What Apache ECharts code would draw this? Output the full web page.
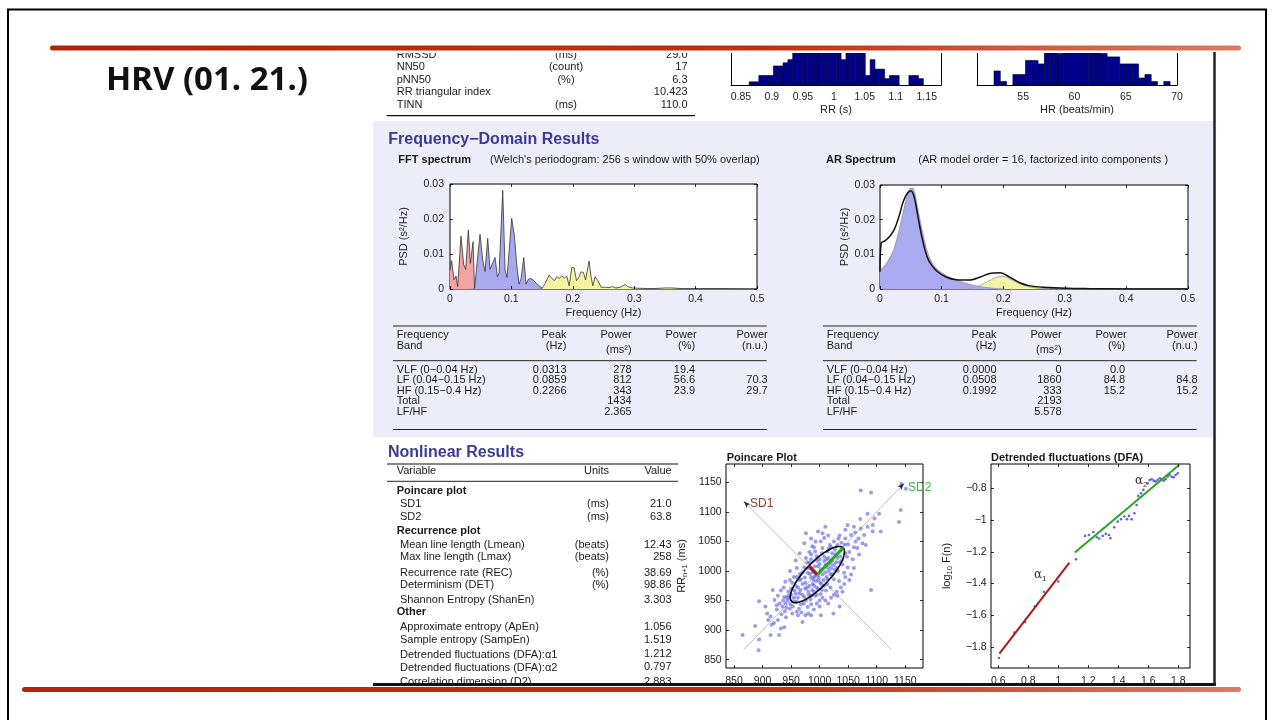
<!DOCTYPE html>
<html><head><meta charset="utf-8">
<script src="https://cdn.jsdelivr.net/npm/echarts@6/dist/echarts.min.js"></script>
<style>html,body{margin:0;padding:0;background:#fff}#c{width:1274px;height:720px}</style>
</head><body><div id="c"></div>
<script>
// ================= DATA =================
const slideTitle = 'HRV (01. 21.)';
const timeRows = [
  ['RMSSD', '(ms)', '29.0'],
  ['NN50', '(count)', '17'],
  ['pNN50', '(%)', '6.3'],
  ['RR triangular index', '', '10.423'],
  ['TINN', '(ms)', '110.0']
];
const rrBinStart = 0.8633, rrBinWidth = 0.0078125;
const rrCounts = [1,1,3,3,3,6,6,7,8,12,14,15,12,14,15,16,14,13,12,8,12,14,13,11,3,8,5,5,2,3,3,0,0,3,3,2];
const rrTicks = [0.85,0.9,0.95,1,1.05,1.1,1.15];
const hrBinStart = 52.16, hrBinWidth = 0.613;
const hrCounts = [4,1,0,3,3,7,7,6,11,12,9,13,14,12,15,13,11,9,8,8,6,6,6,2,3,1,0,1];
const hrTicks = [55,60,65,70];

const fftFreq = [0,0.0027,0.0065,0.0098,0.0125,0.0179,0.0223,0.0255,0.0299,0.0332,0.0375,0.04,
  0.0418,0.0489,0.0533,0.0571,0.0614,0.0652,0.069,0.0734,0.0772,0.0799,0.0859,0.0897,0.0929,0.1005,0.1049,0.1087,0.1125,0.1158,0.1201,0.1239,0.1277,0.1321,0.1364,0.1418,0.15,
  0.1549,0.1614,0.1658,0.1701,0.1739,0.1777,0.1821,0.1864,0.1902,0.194,0.1984,0.2022,0.206,0.2103,0.2136,0.2174,0.2207,0.2266,0.2293,0.2326,0.2364,0.2408,0.2462,0.2527,0.2592,0.2647,0.2701,0.2772,0.2853,0.2908,0.2973,0.31,0.33,0.35,0.36,0.38,0.4,0.42,0.45,0.48,0.5];
const fftPsd = [0.0054,0.0081,0.0026,0.0037,0.0007,0.0151,0.0069,0.0056,0.0169,0.0073,0.0135,0.0002,
  0.0007,0.0156,0.0083,0.005,0.0145,0.0056,0.0073,0.009,0.0035,0.0045,0.0282,0.0054,0.0033,0.0202,0.015,0.0069,0.0014,0.003,0.009,0.0014,0.0028,0.003,0.0024,0.0014,0.0002,
  0.0016,0.004,0.003,0.0024,0.0035,0.003,0.0037,0.0031,0.0037,0.0009,0.0062,0.006,0.0024,0.0035,0.0049,0.0047,0.0026,0.008,0.004,0.0009,0.0035,0.0024,0.0005,0.0005,0.0004,0.0007,0.0003,0.0005,0.0013,0.0006,0.0003,0.0002,0.0001,0.0003,0.0003,0.0001,0.0001,0.0001,0.0001,0,0];
const bandLimits = [0, 0.04, 0.15, 0.4];

const arFreq = [0,0.002,0.008,0.016,0.024,0.032,0.036,0.041,0.044,0.048,0.0508,0.054,0.057,0.061,0.065,0.069,0.073,0.077,0.081,0.092,0.108,0.124,0.146,0.162,0.178,0.195,0.211,0.227,0.243,0.265,0.303,0.341,0.395,0.5];
const arPsd  = [0.005,0.0133,0.0139,0.0152,0.0175,0.0216,0.0243,0.0266,0.0275,0.0282,0.0283,0.0274,0.0254,0.0215,0.0176,0.0142,0.0113,0.0091,0.0076,0.0052,0.0034,0.0027,0.0026,0.0034,0.0045,0.0047,0.0034,0.0018,0.0009,0.0005,0.0002,0.0001,0,0];
const arLfFreq = [0,0.011,0.022,0.032,0.041,0.045,0.049,0.053,0.056,0.059,0.063,0.068,0.076,0.086,0.103,0.124,0.146,0.168,0.189,0.2];
const arLfPsd  = [0.0052,0.0075,0.0111,0.0175,0.0248,0.0274,0.0289,0.029,0.0278,0.0253,0.0215,0.0172,0.0111,0.007,0.0043,0.0025,0.0013,0.0005,0.0001,0];
const arHfFreq = [0.141,0.157,0.173,0.189,0.2,0.211,0.227,0.243,0.265,0.276];
const arHfPsd  = [0,0.0006,0.002,0.0034,0.0036,0.0029,0.0015,0.0006,0.0001,0];
const freqTicks = [0,0.1,0.2,0.3,0.4,0.5];
const psdTicks = [0,0.01,0.02,0.03];

const tableHeader = [['Frequency','Band'],['Peak','(Hz)'],['Power','(ms²)'],['Power','(%)'],['Power','(n.u.)']];
const fftTable = [
  ['VLF (0−0.04 Hz)','0.0313','278','19.4',''],
  ['LF (0.04−0.15 Hz)','0.0859','812','56.6','70.3'],
  ['HF (0.15−0.4 Hz)','0.2266','343','23.9','29.7'],
  ['Total','','1434','',''],
  ['LF/HF','','2.365','','']
];
const arTable = [
  ['VLF (0−0.04 Hz)','0.0000','0','0.0',''],
  ['LF (0.04−0.15 Hz)','0.0508','1860','84.8','84.8'],
  ['HF (0.15−0.4 Hz)','0.1992','333','15.2','15.2'],
  ['Total','','2193','',''],
  ['LF/HF','','5.578','','']
];
const nonlinearRows = [
  ['Poincare plot','','',1],
  ['SD1','(ms)','21.0'],
  ['SD2','(ms)','63.8'],
  ['Recurrence plot','','',1],
  ['Mean line length (Lmean)','(beats)','12.43'],
  ['Max line length (Lmax)','(beats)','258'],
  ['Recurrence rate (REC)','(%)','38.69'],
  ['Determinism (DET)','(%)','98.86'],
  ['Shannon Entropy (ShanEn)','','3.303'],
  ['Other','','',1],
  ['Approximate entropy (ApEn)','','1.056'],
  ['Sample entropy (SampEn)','','1.519'],
  ['Detrended fluctuations (DFA):α1','','1.212'],
  ['Detrended fluctuations (DFA):α2','','0.797'],
  ['Correlation dimension (D2)','','2.883']
];

const poincareRRn = [865,894,887,894,893,905,908,910,914,916,920,914,929,932,938,927,933,941,939,918,921,927,932,937,938,944,948,949,952,960,964,970,967,973,976,979,985,956,962,970,967,974,979,973,982,976,985,992,973,976,997,1002,1008,1005,1014,1022,1031,1040,1043,1049,1055,1055,1049,1063,1066,1069,1075,1078,1081,1072,1084,1093,1084,1071,1093,1096,1104,1107,1090,1072,1090,1139,1142,1143,1151,1024,1031,1019,1014,1011,1002,997,994,988,985,1005,1014,1019,1025,1034,1037,1043,1018,1025,1031,1040,996,991,1002,1008,987,993,
  955,960,965,958,950,945,940,953,962,968,975,980,990,995,1000,1005,995,990,985,980,975,982,990,998,1003,1008,1012,1020,1025,1030,1035,1028,1022,1015,1010,1000,995,985,980,988,1045,1050,1060,1045,1035,1010,985,960,965,955,948,942,935,925,1015,1025,1040,
  945,950,955,958,962,966,970,972,975,978,981,984,987,990,992,995,998,1001,1004,1007,1010,1013,1016,1019,1022,1026,1029,1032,1036,1039,983,986,989,993,997,1000,1004,1008,1012,1016,1020,1027,1033,1038,1044,1048,1052,1058,1062,1015,1005,990,982,978,970,965,960,952,947,942,936,930,925,940,948,958,965,1000,1010,1020,1030,1045,1052,1060,1035,1002,985,1068,1060,1045];
const poincareRRn1 = [892,949,907,884,866,940,928,917,923,909,912,892,892,903,905,917,927,922,932,968,951,958,967,972,956,950,936,944,928,931,936,914,944,956,950,939,944,967,972,978,986,989,997,1006,1014,1022,1028,1033,1047,1064,1067,1050,1056,1039,1033,1017,1022,1011,997,1006,994,1061,1078,1050,1039,1028,1047,1061,1044,1072,1075,1078,1097,1088,1067,1089,1097,1067,968,1136,1133,1083,1103,1147,1139,928,958,972,986,967,961,969,983,978,989,994,1006,994,986,983,972,978,1044,1050,1044,1039,1017,1008,1003,1017,1042,1050,
  955,948,962,975,960,965,945,940,925,930,925,928,935,945,950,955,960,965,958,965,970,975,990,985,978,975,990,1005,1010,1005,1015,1028,1030,1022,1010,1020,1025,1020,1005,998,1030,1045,1040,1055,1060,1075,1055,1005,995,990,985,955,940,935,945,960,965,
  958,970,948,962,955,968,960,945,980,972,960,952,968,975,958,972,990,980,968,985,998,978,1000,1012,995,1002,1015,1000,1025,1018,995,1003,985,992,1008,1012,1030,1024,1020,1038,1040,1036,1055,1048,1045,1024,1032,1020,1065,1060,1064,1040,1032,1015,998,985,990,980,955,938,950,945,942,982,1000,1018,1030,940,950,955,965,990,985,1005,940,925,925,1055,1075,1070];
const sd1 = 21.0, sd2 = 63.8;
const poincareCenter = [996, 994];
const identityLine = [[867,867],[1148,1148]];
const sd1Line = [[867,1118],[1125,868]];
const poincareTicks = [850,900,950,1000,1050,1100,1150];

const dfaLogN = [0.604,0.707,0.778,0.844,0.904,1.0,1.118,1.178,1.204,1.233,1.256,1.273,1.296,1.316,1.338,1.347,1.373,1.396,1.418,1.44,1.458,1.471,1.489,1.507,1.522,1.533,1.551,1.567,1.596,1.609,1.622,1.636,1.649,1.662,1.676,1.689,1.702,1.716,1.729,1.742,1.756,1.769,1.782,1.796];
const dfaLogF = [-1.869,-1.708,-1.643,-1.544,-1.452,-1.387,-1.247,-1.1,-1.094,-1.075,-1.108,-1.117,-1.1,-1.087,-1.094,-1.115,-1.045,-1.01,-0.995,-0.978,-0.995,-0.974,-0.995,-0.957,-0.905,-0.848,-0.831,-0.81,-0.769,-0.748,-0.743,-0.752,-0.758,-0.748,-0.737,-0.743,-0.752,-0.743,-0.727,-0.716,-0.727,-0.731,-0.716,-0.706];
const dfaFit1 = [[0.607,-1.842],[1.074,-1.268]];
const dfaFit2 = [[1.11,-1.205],[1.805,-0.653]];
const dfaXTicks = [0.6,0.8,1,1.2,1.4,1.6,1.8];
const dfaYTicks = [-1.8,-1.6,-1.4,-1.2,-1,-0.8];

// ================= LAYOUT / DRAWING =================
const FONT = '"Liberation Sans", Arial, Helvetica, sans-serif';
const TXT = '#1a1a1a';
const BLUE_TITLE = '#3a3a95';
const G = [];
function text(x, y, s, o) {
  o = o || {};
  G.push({type:'text', x:x, y:y, z:(o.z != null ? o.z : 10), silent:true,
    style:{text:s, font:(o.bold ? 'bold ' : '') + (o.size || 11) + 'px ' + (o.family || FONT),
      fill:o.color || TXT, textAlign:o.align || 'left', textVerticalAlign:o.va || 'middle', rich:o.rich}});
}
function seg(x1, y1, x2, y2, w, c, z) {
  G.push({type:'line', z:(z != null ? z : 10), silent:true, shape:{x1:x1, y1:y1, x2:x2, y2:y2}, style:{stroke:c || '#000', lineWidth:w || 1}});
}
function box(x, y, w, h, fill, z, r) {
  G.push({type:'rect', z:(z != null ? z : 0), silent:true, shape:{x:x, y:y, width:w, height:h, r:r || 0}, style:{fill:fill}});
}

box(373, 121, 841, 316, '#ededf9', -10);

timeRows.forEach(function (r, i) {
  const y = 54.5 + 12.5 * i;
  text(396.7, y, r[0]); text(566, y, r[1], {align:'center'}); text(687.5, y, r[2], {align:'right'});
});
seg(386.7, 115.7, 695, 115.7, 1.2, '#111');

text(388.3, 140, 'Frequency−Domain Results', {bold:true, size:16, color:BLUE_TITLE});
text(398.3, 159.5, 'FFT spectrum', {bold:true, size:11});
text(490, 159.5, "(Welch's periodogram: 256 s window with 50% overlap)", {size:11});
text(826, 159.5, 'AR Spectrum', {bold:true, size:11});
text(918.3, 159.5, '(AR model order = 16, factorized into components )', {size:11});

function bandTable(L, rows) {
  const colR = [0, L + 169.8, L + 235, L + 298.5, L + 371];
  seg(L - 3.7, 326, L + 370, 326, 1, '#222');
  seg(L - 3.7, 360.7, L + 370, 360.7, 1, '#222');
  seg(L - 3.7, 429.5, L + 370, 429.5, 1, '#222');
  tableHeader.forEach(function (h, c) {
    if (c === 0) { text(L, 335, h[0]); text(L, 346, h[1]); }
    else {
      text(colR[c] + (c === 3 ? 1.5 : 0), 335, h[0], {align:'right'});
      text(colR[c], c === 2 ? 349.5 : 346, h[1], {align:'right'});
    }
  });
  rows.forEach(function (r, i) {
    const y = 370 + 10.4 * i;
    text(L, y, r[0]);
    for (let c = 1; c < 5; c++) if (r[c]) text(colR[c], y, r[c], {align:'right'});
  });
}
bandTable(396.7, fftTable);
bandTable(826.7, arTable);

text(388, 453, 'Nonlinear Results', {bold:true, size:16, color:BLUE_TITLE});
seg(387, 464, 678, 464, 1.2, '#111');
text(396.7, 471.3, 'Variable'); text(609, 471.3, 'Units', {align:'right'}); text(671.7, 471.3, 'Value', {align:'right'});
seg(387, 481.3, 678, 481.3, 1, '#222');
const nlRowY = [491.3,504,517.3,531.3,544.7,557.3,572.7,585.3,599.7,612.3,627,639.7,655,668.3,682];
nonlinearRows.forEach(function (r, i) {
  const y = nlRowY[i];
  if (r[3]) text(396.7, y, r[0], {bold:true});
  else { text(400, y, r[0]); if (r[1]) text(609, y, r[1], {align:'right'}); text(671.5, y - (i === 12 || i === 13 ? 1.5 : 0), r[2], {align:'right'}); }
});

text(726.7, 458.3, 'Poincare Plot', {bold:true, size:11});
text(991, 458.3, 'Detrended fluctuations (DFA)', {bold:true, size:11});
text(750, 504, 'SD1', {size:12, color:'#9b3434'});
text(908, 487.5, 'SD2', {size:12, color:'#3cb043'});
const subRich = {a:{fontSize:12, fontFamily:'"DejaVu Serif", serif', fill:'#333', color:'#333'},
                 s:{fontSize:8, fontFamily:FONT, fill:'#333', color:'#333', padding:[7,0,0,0]}};
text(1034, 575, '{a|α}{s|1}', {rich:subRich});
text(1135, 481, '{a|α}{s|2}', {rich:subRich});

text(106, 81, slideTitle, {bold:true, size:33, family:'"Noto Sans", "Open Sans", sans-serif', color:'#111'});

box(373, 11, 844, 42, '#fff', 50);
box(373, 685, 844, 40, '#fff', 50);
seg(373, 684.5, 1216, 684.5, 3, '#111', 55);
seg(1214.5, 52, 1214.5, 686, 2.5, '#222', 55);

const redGrad = new echarts.graphic.LinearGradient(0, 0, 1, 0, [
  {offset:0, color:'#b42208'}, {offset:0.6, color:'#c3300f'}, {offset:1, color:'#dc7a66'}]);
G.push({type:'rect', z:60, silent:true, shape:{x:50, y:45.5, width:1191, height:5, r:2.5}, style:{fill:redGrad}});
G.push({type:'rect', z:60, silent:true, shape:{x:22, y:687, width:1219, height:5, r:2.5}, style:{fill:redGrad}});
G.push({type:'rect', z:60, silent:true, shape:{x:8, y:9.5, width:1258, height:730}, style:{fill:'none', stroke:'#000', lineWidth:2}});

// ================= AXES =================
function fmt(v) { return String(Math.round(v * 10000) / 10000).replace('-', '−'); }
const grids = [
  {left:731, top:52, width:210, height:33, show:false},
  {left:977, top:52, width:200, height:33, show:false},
  {left:450, top:184, width:307, height:105, show:true},
  {left:880, top:185, width:308, height:104, show:true},
  {left:726, top:464, width:197, height:204, show:true},
  {left:991, top:464, width:199, height:204, show:true}
].map(function (g) {
  return Object.assign({containLabel:false, outerBoundsMode:'none', borderColor:'#000', borderWidth:1, backgroundColor:'#fff', z:0}, g);
});

const xAxes = [], yAxes = [];
const labelBase = {fontSize:10.5, fontFamily:FONT, color:'#222'};
const nameBase = {fontSize:11, fontFamily:FONT, color:'#222'};
function addX(gi, min, max, ticks, o) {
  xAxes.push({type:'value', gridIndex:gi, position:'bottom', min:min, max:max, z:5,
    axisLine:{show:!!o.line, onZero:false, lineStyle:{color:'#000', width:1}},
    axisTick:{show:o.tick !== false, inside:true, length:3, customValues:ticks, lineStyle:{color:'#000', width:0.8}},
    axisLabel:Object.assign({show:true, customValues:ticks, formatter:fmt, margin:o.margin}, labelBase),
    splitLine:{show:false}, name:o.name || '', nameLocation:'middle', nameGap:o.nameGap || 18,
    nameTextStyle:Object.assign({}, nameBase, o.nameStyle || {})});
  if (o.top) xAxes.push({type:'value', gridIndex:gi, position:'top', min:min, max:max, z:5,
    axisLine:{show:false, onZero:false}, axisTick:{show:true, inside:true, length:3, customValues:ticks, lineStyle:{color:'#000', width:0.8}},
    axisLabel:{show:false}, splitLine:{show:false}});
  return xAxes.length - (o.top ? 2 : 1);
}
function addY(gi, min, max, ticks, o) {
  yAxes.push({type:'value', gridIndex:gi, position:'left', min:min, max:max, z:5,
    axisLine:{show:!!o.line, onZero:false, lineStyle:{color:'#000', width:1}},
    axisTick:{show:!!ticks, inside:true, length:3, customValues:ticks || [], lineStyle:{color:'#000', width:0.8}},
    axisLabel:Object.assign({show:!!ticks, customValues:ticks || [], formatter:fmt, margin:o.margin}, labelBase),
    splitLine:{show:false}, name:o.name || '', nameLocation:'middle', nameGap:o.nameGap || 30,
    nameTextStyle:Object.assign({}, nameBase, o.nameStyle || {})});
  yAxes.push({type:'value', gridIndex:gi, position:'right', min:min, max:max, z:5,
    axisLine:{show:!!o.line, onZero:false, lineStyle:{color:'#000', width:1}},
    axisTick:{show:!!ticks, inside:true, length:3, customValues:ticks || [], lineStyle:{color:'#000', width:0.8}},
    axisLabel:{show:false}, splitLine:{show:false}});
  return yAxes.length - 2;
}

const rrYMax = 10.4, hrYMax = 9.4;
const xRR = addX(0, 0.834, 1.173, rrTicks, {line:true, tick:false, margin:6.5, name:'RR (s)', nameGap:19.5});
const yRR = addY(0, 0, rrYMax, null, {line:true});
const xHR = addX(1, 50.5, 70, hrTicks, {line:true, tick:false, margin:6.5, name:'HR (beats/min)', nameGap:19.5});
const yHR = addY(1, 0, hrYMax, null, {line:true});
const xFFT = addX(2, 0, 0.5, freqTicks, {top:true, margin:5, name:'Frequency (Hz)', nameGap:18});
const yFFT = addY(2, 0, 0.03, psdTicks, {margin:6, name:'PSD (s²/Hz)', nameGap:41});
const xAR = addX(3, 0, 0.5, freqTicks, {top:true, margin:5, name:'Frequency (Hz)', nameGap:18});
const yAR = addY(3, 0, 0.03, psdTicks, {margin:5, name:'PSD (s²/Hz)', nameGap:27});
const xP = addX(4, 836, 1181, poincareTicks, {top:true, margin:8});
const yP = addY(4, 836, 1181, poincareTicks, {margin:4.3, nameGap:37,
  name:'{a|RR}{s|n+1}{a| (ms)}',
  nameStyle:{rich:{a:{fontSize:11, fontFamily:FONT, color:'#222'}, s:{fontSize:7.5, fontFamily:FONT, color:'#222', padding:[6,0,0,0]}}}});
const xD = addX(5, 0.551, 1.878, dfaXTicks, {top:true, margin:8});
const yD = addY(5, -1.932, -0.647, dfaYTicks, {margin:4.3, nameGap:37,
  name:'{a|log}{s|10}{a| F(n)}',
  nameStyle:{rich:{a:{fontSize:11, fontFamily:FONT, color:'#222'}, s:{fontSize:7.5, fontFamily:FONT, color:'#222', padding:[6,0,0,0]}}}});

// ================= SERIES =================
function histItem(params, api) {
  const c = api.value(2);
  if (!(c > 0)) return null;
  const a = api.coord([api.value(0), 0]);
  const b = api.coord([api.value(1), c]);
  const cs = params.coordSys;
  const shape = echarts.graphic.clipRectByRect(
    {x:a[0], y:b[1], width:b[0] - a[0], height:a[1] - b[1]},
    {x:cs.x, y:cs.y, width:cs.width, height:cs.height});
  if (!shape) return null;
  return {type:'rect', shape:shape, style:{fill:'#00008c', stroke:'#000030', lineWidth:0.6}};
}
const rrData = rrCounts.map(function (c, i) { return [rrBinStart + i * rrBinWidth, rrBinStart + (i + 1) * rrBinWidth, c]; });
const hrData = hrCounts.map(function (c, i) { return [hrBinStart + i * hrBinWidth, hrBinStart + (i + 1) * hrBinWidth, c]; });

function pairs(xs, ys) { return xs.map(function (x, i) { return [x, ys[i]]; }); }
const fftPts = pairs(fftFreq, fftPsd);
function band(lo, hi) { return fftPts.filter(function (p) { return p[0] >= lo - 1e-9 && p[0] <= hi + 1e-9; }); }
const bandColors = ['#f3a3a3', '#a9a9ee', '#f5f4a3'];

const series = [];
series.push({type:'custom', xAxisIndex:xRR, yAxisIndex:yRR, renderItem:histItem, data:rrData, encode:{x:[0,1], y:2}, silent:true});
series.push({type:'custom', xAxisIndex:xHR, yAxisIndex:yHR, renderItem:histItem, data:hrData, encode:{x:[0,1], y:2}, silent:true});
for (let b = 0; b < 3; b++) {
  series.push({type:'line', xAxisIndex:xFFT, yAxisIndex:yFFT, data:band(bandLimits[b], bandLimits[b + 1]),
    showSymbol:false, symbol:'none', lineStyle:{width:0, opacity:0}, areaStyle:{color:bandColors[b], opacity:1}, silent:true, z:2});
}
series.push({type:'line', xAxisIndex:xFFT, yAxisIndex:yFFT, data:fftPts, showSymbol:false, symbol:'none',
  lineStyle:{width:0.8, color:'#333'}, silent:true, z:3});

series.push({type:'line', xAxisIndex:xAR, yAxisIndex:yAR, data:pairs(arHfFreq, arHfPsd), showSymbol:false, symbol:'none', smooth:0.3,
  lineStyle:{width:1, color:'#a8a8a8'}, areaStyle:{color:'#f5f3a6', opacity:1}, silent:true, z:2});
series.push({type:'line', xAxisIndex:xAR, yAxisIndex:yAR, data:pairs(arLfFreq, arLfPsd), showSymbol:false, symbol:'none', smooth:0.3,
  lineStyle:{width:1.2, color:'#a0a0b0'}, areaStyle:{color:'#aaaaf0', opacity:1}, silent:true, z:2});
series.push({type:'line', xAxisIndex:xAR, yAxisIndex:yAR, data:pairs(arFreq, arPsd), showSymbol:false, symbol:'none', smooth:0.3,
  lineStyle:{width:1.5, color:'#111'}, silent:true, z:3});

const k = Math.SQRT1_2;
series.push({type:'line', xAxisIndex:xP, yAxisIndex:yP, data:identityLine, showSymbol:false, symbol:'none', lineStyle:{width:1, color:'#bdbdbd'}, silent:true, z:2});
series.push({type:'line', xAxisIndex:xP, yAxisIndex:yP, data:sd1Line, showSymbol:false, symbol:'none', lineStyle:{width:1, color:'#bdbdbd'}, silent:true, z:2});
series.push({type:'scatter', xAxisIndex:xP, yAxisIndex:yP, data:pairs(poincareRRn, poincareRRn1), symbolSize:4,
  itemStyle:{color:'rgba(100,100,228,0.8)'}, silent:true, z:3});
series.push({type:'scatter', xAxisIndex:xP, yAxisIndex:yP, data:[identityLine[1]], symbol:'arrow', symbolSize:[4,7], symbolRotate:-45, itemStyle:{color:'#000'}, silent:true, z:4});
series.push({type:'scatter', xAxisIndex:xP, yAxisIndex:yP, data:[sd1Line[0]], symbol:'arrow', symbolSize:[4,7], symbolRotate:45, itemStyle:{color:'#000'}, silent:true, z:4});
series.push({type:'custom', xAxisIndex:xP, yAxisIndex:yP, data:[[poincareCenter[0], poincareCenter[1], sd1, sd2]], encode:{x:0, y:1}, silent:true, z:5,
  renderItem:function (params, api) {
    const cx = api.value(0), cy = api.value(1), s1 = api.value(2), s2 = api.value(3);
    const pts = [];
    for (let i = 0; i <= 90; i++) {
      const t = i / 90 * 2 * Math.PI, u = s2 * Math.cos(t), v = s1 * Math.sin(t);
      pts.push(api.coord([cx + k * (u - v), cy + k * (u + v)]));
    }
    return {type:'polyline', shape:{points:pts}, style:{stroke:'#000', lineWidth:1.6, fill:'none'}};
  }});
series.push({type:'line', xAxisIndex:xP, yAxisIndex:yP, showSymbol:false, symbol:'none', silent:true, z:6,
  data:[poincareCenter.slice(), [poincareCenter[0] - sd1 * k, poincareCenter[1] + sd1 * k]], lineStyle:{width:3.2, color:'#a01c1c'}});
series.push({type:'line', xAxisIndex:xP, yAxisIndex:yP, showSymbol:false, symbol:'none', silent:true, z:6,
  data:[poincareCenter.slice(), [poincareCenter[0] + sd2 * k, poincareCenter[1] + sd2 * k]], lineStyle:{width:3.2, color:'#22aa22'}});

series.push({type:'scatter', xAxisIndex:xD, yAxisIndex:yD, data:pairs(dfaLogN, dfaLogF), symbolSize:2.6, itemStyle:{color:'#3a3ad0'}, silent:true, z:3});
series.push({type:'line', xAxisIndex:xD, yAxisIndex:yD, data:dfaFit1, showSymbol:false, symbol:'none', lineStyle:{width:2, color:'#b01818'}, silent:true, z:4});
series.push({type:'line', xAxisIndex:xD, yAxisIndex:yD, data:dfaFit2, showSymbol:false, symbol:'none', lineStyle:{width:2, color:'#22aa22'}, silent:true, z:4});

const chart = echarts.init(document.getElementById('c'), null, {renderer:'canvas'});
chart.setOption({
  animation:false,
  backgroundColor:'#fff',
  grid:grids,
  xAxis:xAxes,
  yAxis:yAxes,
  series:series,
  graphic:{elements:G}
});
</script></body></html>
